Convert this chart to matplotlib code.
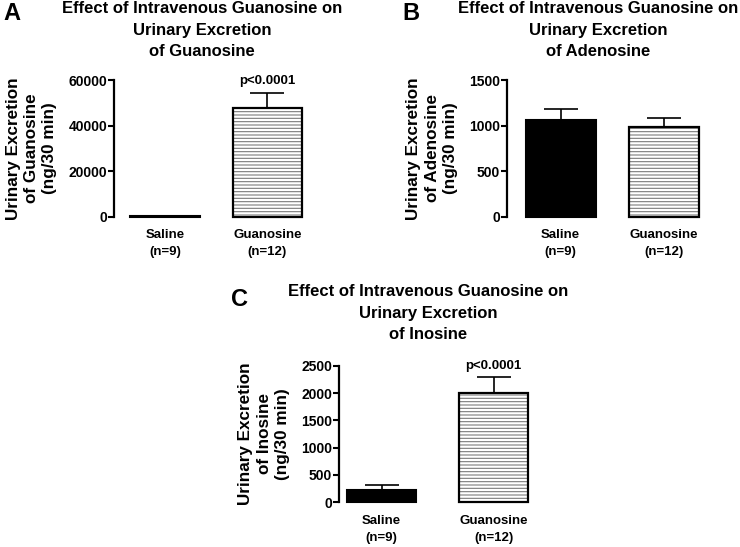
import matplotlib
matplotlib.use("Agg")
import matplotlib.pyplot as plt

plt.rcParams['font.family'] = ['Liberation Sans', 'DejaVu Sans']
plt.rcParams['font.weight'] = 'bold'
plt.rcParams['hatch.linewidth'] = 0.8

# ---- data ----
categories = ["Saline\n(n=9)", "Guanosine\n(n=12)"]
guanosine_mean = [250, 47800]
guanosine_err = [0, 6600]
adenosine_mean = [1060, 984]
adenosine_err = [125, 102]
inosine_mean = [225, 2004]
inosine_err = [91, 288]

titles = ["Effect of Intravenous Guanosine on\nUrinary Excretion\nof Guanosine",
          "Effect of Intravenous Guanosine on\nUrinary Excretion\nof Adenosine",
          "Effect of Intravenous Guanosine on\nUrinary Excretion\nof Inosine"]
ylabels = ["Urinary Excretion\nof Guanosine\n(ng/30 min)",
           "Urinary Excretion\nof Adenosine\n(ng/30 min)",
           "Urinary Excretion\nof Inosine\n(ng/30 min)"]
ticks_A = [0, 20000, 40000, 60000]
ticks_B = [0, 500, 1000, 1500]
ticks_C = [0, 500, 1000, 1500, 2000, 2500]
panel_letters = ["A", "B", "C"]
pvalue_text = "p<0.0001"

W, H = 740, 547
fig = plt.figure(figsize=(W / 100, H / 100), dpi=100)


def px_axes(left, right, bottom_y, top_y):
    return fig.add_axes([left / W, (H - bottom_y) / H, (right - left) / W, (bottom_y - top_y) / H])


def draw_panel(ax, means, errs, ticks, xlim, width, ylabel, pval):
    x = [0, 1]
    # saline: solid black
    ax.bar(x[0], means[0], width=width, color='black', edgecolor='black', linewidth=1.5, clip_on=False, zorder=2)
    # guanosine: white with horizontal hatch
    ax.bar(x[1], means[1], width=width, color='white', edgecolor='#7a7a7a', hatch='-----', linewidth=0, clip_on=False, zorder=2)
    ax.bar(x[1], means[1], width=width, fill=False, edgecolor='black', linewidth=1.6, clip_on=False, zorder=3)
    for xi, m, e in zip(x, means, errs):
        if e > 0:
            ax.errorbar(xi, m, yerr=[[0], [e]], fmt='none', ecolor='black', elinewidth=1.2,
                        capsize=12, capthick=1.2, zorder=1, clip_on=False)
    if pval:
        ax.annotate(pval, xy=(x[1], means[1] + errs[1]), xytext=(0, 4), textcoords='offset points',
                    ha='center', va='bottom', fontsize=9.5, fontweight='bold')
    ax.set_xlim(*xlim)
    ax.set_ylim(ticks[0], ticks[-1])
    ax.set_yticks(ticks)
    ax.set_yticklabels([str(t) for t in ticks], fontsize=10, fontweight='bold')
    ax.set_xticks([])
    for s in ['top', 'right', 'bottom']:
        ax.spines[s].set_visible(False)
    ax.spines['left'].set_linewidth(1.6)
    ax.tick_params(axis='y', direction='out', length=4, width=1.5, pad=1)
    ax.set_ylabel(ylabel, fontsize=12.3, fontweight='bold', linespacing=1.27, labelpad=8)
    ax.patch.set_alpha(0)


# Panel A
axA = px_axes(114, 318.5, 216.7, 80)
draw_panel(axA, guanosine_mean, guanosine_err, ticks_A, (-0.5, 1.5), 0.68, ylabels[0], pvalue_text)
# Panel B
axB = px_axes(507, 715, 216.7, 80)
draw_panel(axB, adenosine_mean, adenosine_err, ticks_B, (-0.52, 1.5), 0.68, ylabels[1], None)
# Panel C
axC = px_axes(339, 549.5, 502.3, 365.7)
draw_panel(axC, inosine_mean, inosine_err, ticks_C, (-0.38, 1.5), 0.616, ylabels[2], pvalue_text)

# category labels below bars
for ax in (axA, axB, axC):
    for xi, lab in zip([0, 1], categories):
        ax.annotate(lab, xy=(xi, 0), xycoords=('data', 'axes fraction'), xytext=(0, -9),
                    textcoords='offset points', ha='center', va='top', fontsize=9.5,
                    fontweight='bold', linespacing=1.55)

# titles
tkw = dict(ha='center', va='top', fontsize=12, fontweight='bold', linespacing=1.55)
fig.text(202 / W, 1 - 1 / H, titles[0], **tkw)
fig.text(598 / W, 1 - 1 / H, titles[1], **tkw)
fig.text(428 / W, 1 - 284 / H, titles[2], **tkw)

# panel letters
lkw = dict(ha='left', va='top', fontsize=17, fontweight='bold')
fig.text(3 / W, 1 - 2 / H, panel_letters[0], **lkw)
fig.text(402 / W, 1 - 2 / H, panel_letters[1], **lkw)
fig.text(231 / W, 1 - 288 / H, panel_letters[2], **lkw)

fig.savefig("out.png", dpi=100)
